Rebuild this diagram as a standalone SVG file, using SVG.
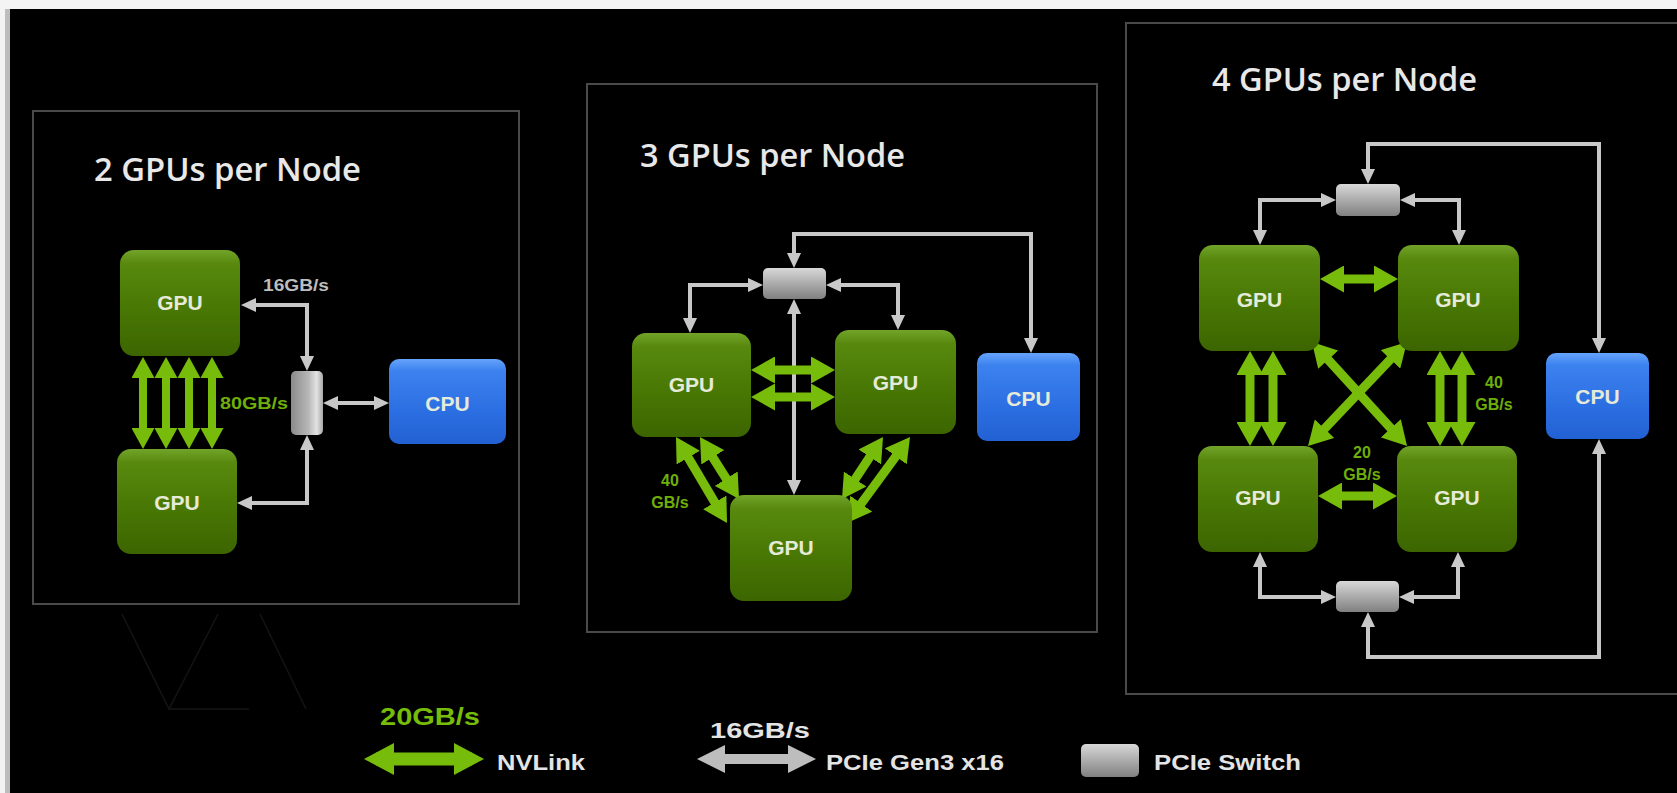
<svg xmlns="http://www.w3.org/2000/svg" width="1677" height="793" viewBox="0 0 1677 793">
<defs>
<linearGradient id="gpuG" x1="0" y1="0" x2="0" y2="1">
<stop offset="0" stop-color="#72a42a"/><stop offset="0.13" stop-color="#58890e"/><stop offset="0.5" stop-color="#4a7a05"/><stop offset="1" stop-color="#3c6500"/>
</linearGradient>
<linearGradient id="cpuG" x1="0" y1="0" x2="0" y2="1">
<stop offset="0" stop-color="#66a4fb"/><stop offset="0.14" stop-color="#3c82ef"/><stop offset="0.6" stop-color="#2c6fe2"/><stop offset="1" stop-color="#2261d4"/>
</linearGradient>
<linearGradient id="swG" x1="0" y1="0" x2="0" y2="1">
<stop offset="0" stop-color="#d8d8d8"/><stop offset="0.45" stop-color="#b0b0b0"/><stop offset="1" stop-color="#808080"/>
</linearGradient>
<linearGradient id="swGv" x1="0" y1="0" x2="1" y2="0">
<stop offset="0" stop-color="#8a8a8a"/><stop offset="0.55" stop-color="#b8b8b8"/><stop offset="0.8" stop-color="#e2e2e2"/><stop offset="1" stop-color="#a8a8a8"/>
</linearGradient>
<marker id="pa" markerUnits="userSpaceOnUse" markerWidth="16" markerHeight="14" refX="10" refY="7" orient="auto-start-reverse"><path d="M0,0 L15,7 L0,14 z" fill="#c8c8c8"/></marker>
<marker id="paL" markerUnits="userSpaceOnUse" markerWidth="28" markerHeight="28" refX="16" refY="14" orient="auto-start-reverse"><path d="M0,0 L28,14 L0,28 z" fill="#bdbdbd"/></marker>
<marker id="nv1" markerUnits="userSpaceOnUse" markerWidth="21" markerHeight="23" refX="11" refY="11.5" orient="auto-start-reverse"><path d="M0,0 L21,11.5 L0,23 z" fill="#77bc0a"/></marker>
<marker id="nv2" markerUnits="userSpaceOnUse" markerWidth="24" markerHeight="27" refX="14" refY="13.5" orient="auto-start-reverse"><path d="M0,0 L24,13.5 L0,27 z" fill="#77bc0a"/></marker>
<marker id="nvL" markerUnits="userSpaceOnUse" markerWidth="30" markerHeight="32" refX="18" refY="16" orient="auto-start-reverse"><path d="M0,0 L30,16 L0,32 z" fill="#77bc0a"/></marker>
</defs>
<style>
.frame{fill:none;stroke:#4a4a4a;stroke-width:2}
.title{font-family:"Open Sans","Liberation Sans",sans-serif;font-size:33px;font-weight:600;fill:#e8e8e8}
.gpu{fill:url(#gpuG)}
.cpu{fill:url(#cpuG)}
.sw{fill:url(#swG)}
.lbl{font-family:"Liberation Sans",Arial,sans-serif;font-weight:bold;font-size:21px;fill:#e6ead8;text-anchor:middle}
.pcie{fill:none;stroke:#c8c8c8;stroke-width:4;marker-start:url(#pa);marker-end:url(#pa)}
.nv1{fill:none;stroke:#77bc0a;stroke-width:8;marker-start:url(#nv1);marker-end:url(#nv1)}
.nv2{fill:none;stroke:#77bc0a;stroke-width:9;marker-start:url(#nv2);marker-end:url(#nv2)}
.gt{font-family:"Liberation Sans",Arial,sans-serif;font-size:16px;font-weight:bold;fill:#6fae0a}
.wt{font-family:"Liberation Sans",Arial,sans-serif;font-size:17px;font-weight:bold;fill:#bdbdbd}
.leg{font-family:"Liberation Sans",Arial,sans-serif;font-weight:bold;font-size:22px;fill:#e4e4e4}
.bgl{fill:none;stroke:#141414;stroke-width:1.5}
</style>
<rect x="0" y="0" width="1677" height="793" fill="#000"/>
<rect x="0" y="0" width="1677" height="9" fill="#f4f4f4"/>
<rect x="0" y="0" width="5" height="793" fill="#f4f4f4"/>
<rect x="5" y="9" width="5" height="784" fill="#bdbdbd"/>
<g id="background-lines">
<path class="bgl" d="M122,614 L169,709 L218,614 M169,709 L249,709 M260,614 L306,709"/>
</g>
<g id="panel-2gpu">
<rect class="frame" x="33" y="111" width="486" height="493"/>
<text class="title" x="94" y="181" textLength="267" lengthAdjust="spacingAndGlyphs">2 GPUs per Node</text>
</g>
<g id="panel-3gpu">
<rect class="frame" x="587" y="84" width="510" height="548"/>
<text class="title" x="640" y="167" textLength="265" lengthAdjust="spacingAndGlyphs">3 GPUs per Node</text>
</g>
<g id="panel-4gpu">
<rect class="frame" x="1126" y="23" width="600" height="671"/>
<text class="title" x="1212" y="91" textLength="265" lengthAdjust="spacingAndGlyphs">4 GPUs per Node</text>
</g>
<g id="connectors">
<path class="pcie" d="M246,305 H307 V366"/>
<path class="pcie" d="M307,440 V503 H242"/>
<path class="pcie" d="M328,403 H384"/>
<path class="nv1" d="M143,367 V439"/>
<path class="nv1" d="M166,367 V439"/>
<path class="nv1" d="M189,367 V439"/>
<path class="nv1" d="M212,367 V439"/>
<path class="pcie" d="M794,263 V234 H1031 V348"/>
<path class="pcie" d="M758,285 H690 V328"/>
<path class="pcie" d="M831,285 H898 V325"/>
<path class="pcie" d="M794,304 V490"/>
<path class="nv2" d="M761,370 H825"/>
<path class="nv2" d="M761,397 H825"/>
<path class="nv2" d="M681.1,445.6 L721.9,514.4"/>
<path class="nv2" d="M705.3,445.5 L733.7,490.5"/>
<path class="nv2" d="M904.1,445.1 L852.9,514.9"/>
<path class="nv2" d="M877.5,445.3 L847.5,490.7"/>
<path class="pcie" d="M1368,179 V144 H1599 V348"/>
<path class="pcie" d="M1331,200 H1260 V240"/>
<path class="pcie" d="M1405,200 H1459 V240"/>
<path class="pcie" d="M1260,557 V597 H1331"/>
<path class="pcie" d="M1458,557 V597 H1404"/>
<path class="pcie" d="M1368,617 V657 H1599 V444"/>
<path class="nv2" d="M1330,279 H1388"/>
<path class="nv2" d="M1328,496 H1387"/>
<path class="nv2" d="M1250,361 V436"/>
<path class="nv2" d="M1273,361 V436"/>
<path class="nv2" d="M1440,361 V436"/>
<path class="nv2" d="M1462,361 V436"/>
<path class="nv2" d="M1318.7,349.4 L1400.3,438.6"/>
<path class="nv2" d="M1400.1,349.2 L1314.9,438.8"/>
</g>
<g id="labels">
<text class="wt" x="263" y="291" textLength="66" lengthAdjust="spacingAndGlyphs">16GB/s</text>
<text class="gt" x="220" y="409" textLength="68" lengthAdjust="spacingAndGlyphs">80GB/s</text>
<text class="gt" x="670" y="486" text-anchor="middle">40</text>
<text class="gt" x="670" y="508" text-anchor="middle">GB/s</text>
<text class="gt" x="1494" y="388" text-anchor="middle">40</text>
<text class="gt" x="1494" y="410" text-anchor="middle">GB/s</text>
<text class="gt" x="1362" y="458" text-anchor="middle">20</text>
<text class="gt" x="1362" y="480" text-anchor="middle">GB/s</text>
</g>
<g id="p1-gpu1"><rect class="gpu" x="120" y="250" width="120" height="106" rx="14"/><text class="lbl" x="180" y="310">GPU</text></g>
<g id="p1-gpu2"><rect class="gpu" x="117" y="449" width="120" height="105" rx="14"/><text class="lbl" x="177" y="510">GPU</text></g>
<g id="p1-switch"><rect x="291" y="371" width="32" height="64" rx="5" fill="url(#swGv)"/></g>
<g id="p1-cpu"><rect class="cpu" x="389" y="359" width="117" height="85" rx="10"/><text class="lbl" x="447.5" y="411" font-size="22">CPU</text></g>
<g id="p2-switch"><rect class="sw" x="763" y="268" width="63" height="31" rx="5"/></g>
<g id="p2-gpuL"><rect class="gpu" x="632" y="333" width="119" height="104" rx="14"/><text class="lbl" x="691.5" y="392">GPU</text></g>
<g id="p2-gpuR"><rect class="gpu" x="835" y="330" width="121" height="104" rx="14"/><text class="lbl" x="895.5" y="390">GPU</text></g>
<g id="p2-gpuB"><rect class="gpu" x="730" y="495" width="122" height="106" rx="14"/><text class="lbl" x="791" y="555">GPU</text></g>
<g id="p2-cpu"><rect class="cpu" x="977" y="353" width="103" height="88" rx="10"/><text class="lbl" x="1028.5" y="406" font-size="22">CPU</text></g>
<g id="p3-switch-top"><rect class="sw" x="1336" y="184" width="64" height="32" rx="5"/></g>
<g id="p3-switch-bottom"><rect class="sw" x="1336" y="581" width="63" height="31" rx="5"/></g>
<g id="p3-gpuTL"><rect class="gpu" x="1199" y="245" width="121" height="106" rx="14"/><text class="lbl" x="1259.5" y="307">GPU</text></g>
<g id="p3-gpuTR"><rect class="gpu" x="1398" y="245" width="121" height="106" rx="14"/><text class="lbl" x="1458" y="307">GPU</text></g>
<g id="p3-gpuBL"><rect class="gpu" x="1198" y="446" width="120" height="106" rx="14"/><text class="lbl" x="1258" y="505">GPU</text></g>
<g id="p3-gpuBR"><rect class="gpu" x="1397" y="446" width="120" height="106" rx="14"/><text class="lbl" x="1457" y="505">GPU</text></g>
<g id="p3-cpu"><rect class="cpu" x="1546" y="353" width="103" height="86" rx="10"/><text class="lbl" x="1597.5" y="404" font-size="22">CPU</text></g>
<g id="legend">
<text x="380" y="725" font-family="Liberation Sans, Arial, sans-serif" font-weight="bold" font-size="24" fill="#77bc0a" textLength="100" lengthAdjust="spacingAndGlyphs">20GB/s</text>
<path d="M376,759 H472" stroke="#77bc0a" stroke-width="13" fill="none" marker-start="url(#nvL)" marker-end="url(#nvL)"/>
<text class="leg" x="497" y="770" textLength="88" lengthAdjust="spacingAndGlyphs">NVLink</text>
<text class="leg" x="710" y="738" fill="#d0d0d0" textLength="100" lengthAdjust="spacingAndGlyphs">16GB/s</text>
<path d="M709,759 H804" stroke="#bdbdbd" stroke-width="10" fill="none" marker-start="url(#paL)" marker-end="url(#paL)"/>
<text class="leg" x="826" y="770" textLength="178" lengthAdjust="spacingAndGlyphs">PCIe Gen3 x16</text>
<rect class="sw" x="1081" y="744" width="58" height="33" rx="5"/>
<text class="leg" x="1154" y="770" textLength="147" lengthAdjust="spacingAndGlyphs">PCIe Switch</text>
</g>
</svg>
